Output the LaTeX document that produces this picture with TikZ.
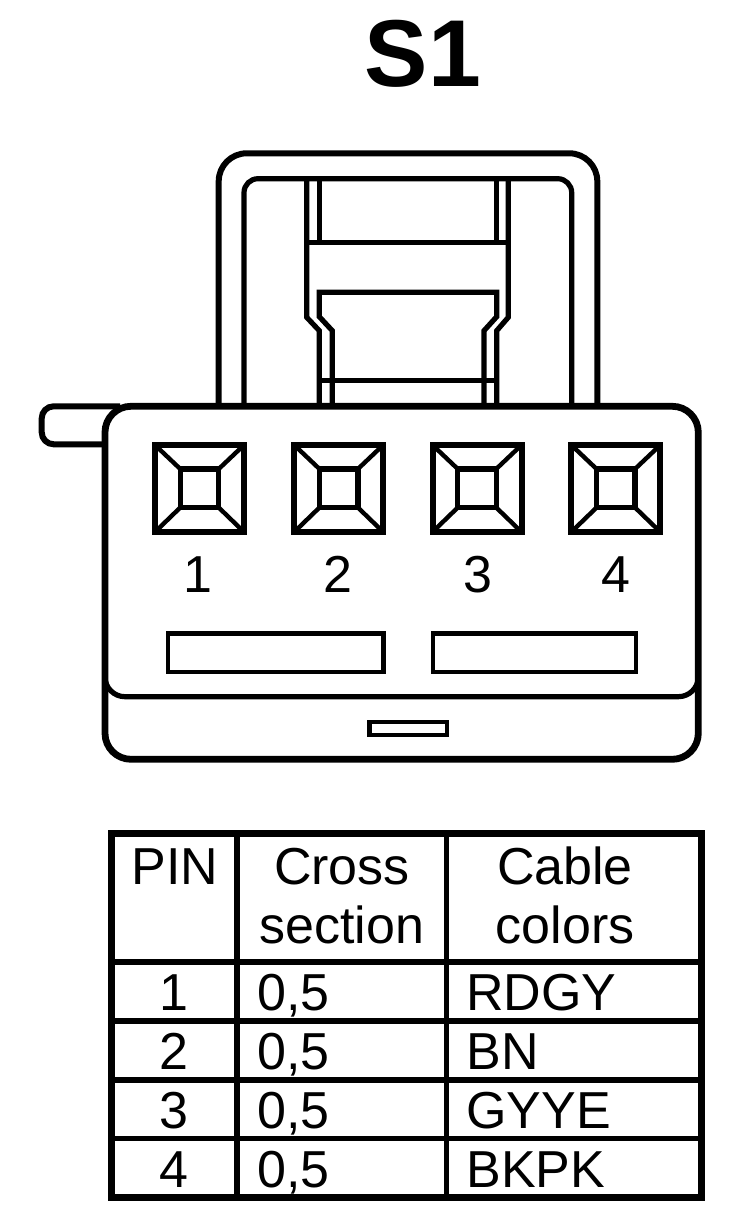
\documentclass[tikz,border=0pt]{standalone}
\usepackage{fontspec}
\setmainfont{Liberation Sans}
\usetikzlibrary{positioning}

\begin{document}
\begin{tikzpicture}[
            x = 0.5pt, % one unit is one pixel of the sheet
            y = -0.5pt,
            line join = miter,
            body/.style = {draw = black, line width = 3.4pt},
            heavy/.style = {draw = black, line width = 3pt},
            medium/.style = {draw = black, line width = 2.6pt},
            fine/.style = {draw = black, line width = 2.2pt},
            frame/.style = {draw = black, line width = 3.6pt},
            grid/.style = {draw = black, line width = 2.7pt},
            pinlabel/.style = {anchor = base, inner sep = 0pt, font = \fontsize{26}{26}\selectfont},
            cell/.style = {anchor = base, inner sep = 0pt, font = \fontsize{26}{26}\selectfont},
            leftcell/.style = {cell, anchor = base west}
        ]

        \useasboundingbox (0,0) rectangle (752,1224);

        \node[anchor = base, inner sep = 0pt, font = \fontsize{47.5}{47.5}\selectfont\bfseries] (title) at (423,87) {S1};

        % Bail
        \draw[heavy] (218.7,406) -- (218.7,183) [rounded corners=14pt] -- (218.7,153.3) -- (597.3,153.3) [sharp corners] -- (597.3,183) -- (597.3,406);
        \draw[medium] (244,406) -- (244,195) [rounded corners=7pt] -- (244,178.7) -- (571.7,178.7) [sharp corners] -- (571.7,195) -- (571.7,406);

        % Latch
        \draw[medium] (306.7,178.7) -- (306.7,317.3) -- (319.3,330.7) -- (319.3,406);
        \draw[medium] (508.3,178.7) -- (508.3,317.3) -- (496.7,330.7) -- (496.7,406);
        \draw[medium] (319.3,178.7) -- (319.3,242.3);
        \draw[medium] (496.7,178.7) -- (496.7,242.3);
        \draw[medium] (306.7,242.3) -- (508.3,242.3);
        \draw[medium] (332.3,406) -- (332.3,330.7) -- (319.3,316.7) -- (319.3,292.3) -- (496.7,292.3) -- (496.7,316.7) -- (484,330.7) -- (484,406);
        \draw[medium] (319.3,380.7) -- (496.7,380.7);

        % Housing
        \draw[heavy] (105,444.3) -- (55,444.3) [rounded corners=6pt] -- (41.7,444.3) -- (41.7,406.3) [sharp corners] -- (55,406.3) -- (120,406.3);
        \draw[body, rounded corners=13pt] (400,406.3) -- (105,406.3) -- (105,759.3) -- (698.3,759.3) -- (698.3,406.3) -- cycle;
        \draw[medium, rounded corners=10pt] (105,665) -- (105,696.7) -- (698.3,696.7) -- (698.3,665);

        % Pin cavities
        \foreach \n/\cx/\lx in {1/199.5/198, 2/338.7/338, 3/477/478, 4/615.8/616} {
            \draw[heavy] (\cx-44.5,445) rectangle (\cx+44.5,532);
            \draw[medium] (\cx-19.2,469) rectangle (\cx+19.2,507.5);
            \draw[fine] (\cx-44.5,445) -- (\cx-19.2,469);
            \draw[fine] (\cx+44.5,445) -- (\cx+19.2,469);
            \draw[fine] (\cx-44.5,532) -- (\cx-19.2,507.5);
            \draw[fine] (\cx+44.5,532) -- (\cx+19.2,507.5);
            \node[pinlabel] (p\n) at (\lx,592) {\n};
        }

        % Slots
        \draw[fine] (167.7,633.3) rectangle (383.3,671.7);
        \draw[fine] (432.7,633.3) rectangle (635.7,671.7);
        \draw[fine] (369.3,721.7) rectangle (446.7,735);

        % Table
        \draw[grid] (236.8,833.7) -- (236.8,1197.8);
        \draw[grid] (446.7,833.7) -- (446.7,1197.8);
        \foreach \r in {962,1021,1080,1138.7} {
            \draw[grid] (111.3,\r) -- (701.7,\r);
        }
        \draw[frame] (111.3,833.7) rectangle (701.7,1197.8);

        \node[cell] (pin) at (175,884) {PIN};
        \node[cell] (cross) at (342,884) {Cross};
        \node[cell] (section) at (342,943) {section};
        \node[cell] (cable) at (565,884) {Cable};
        \node[cell] (colors) at (565,943) {colors};

        \foreach \n/\b/\c in {1/1010/RDGY, 2/1069/BN, 3/1128/GYYE, 4/1187/BKPK} {
            \node[cell] (n\n) at (174,\b) {\n};
            \node[leftcell] (s\n) at (257,\b) {0,5};
            \node[leftcell] (c\n) at (466,\b) {\c};
        }

\end{tikzpicture}
\end{document}
